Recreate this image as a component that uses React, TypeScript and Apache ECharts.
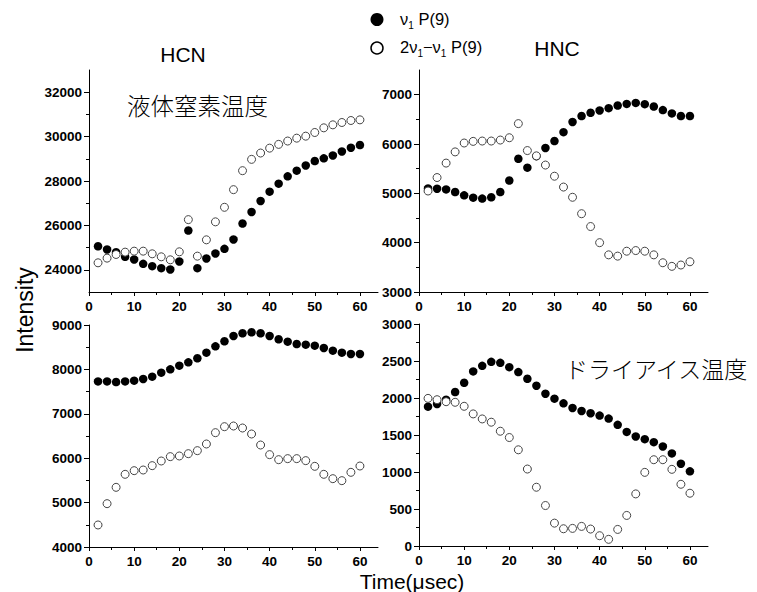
import React, { useEffect, useRef } from "react";
import * as echarts from "echarts";

// Time axis (µsec)
const TIME = [2, 4, 6, 8, 10, 12, 14, 16, 18, 20, 22, 24, 26, 28, 30, 32, 34, 36, 38, 40, 42, 44, 46, 48, 50, 52, 54, 56, 58, 60];

// HCN, liquid-nitrogen temperature
const HCN_LN2_V1 = [25060, 24915, 24795, 24585, 24465, 24270, 24165, 24075, 24015, 24375, 25770, 24075, 24510, 24735, 24945, 25365, 26085, 26605, 27100, 27520, 27880, 28210, 28465, 28700, 28900, 29020, 29150, 29330, 29500, 29620];
const HCN_LN2_COMB = [24315, 24525, 24690, 24795, 24840, 24840, 24720, 24585, 24450, 24810, 26260, 24615, 25350, 26160, 26815, 27610, 28465, 28975, 29260, 29480, 29650, 29800, 29930, 30020, 30185, 30395, 30530, 30635, 30725, 30755];

// HNC, liquid-nitrogen temperature
const HNC_LN2_V1 = [5100, 5093, 5080, 5027, 4960, 4913, 4893, 4920, 5027, 5260, 5700, 5520, 5753, 5920, 6060, 6240, 6447, 6567, 6633, 6680, 6727, 6780, 6813, 6833, 6807, 6760, 6687, 6620, 6567, 6567];
const HNC_LN2_COMB = [5047, 5320, 5613, 5840, 6020, 6053, 6060, 6060, 6080, 6127, 6413, 5867, 5760, 5573, 5347, 5127, 4920, 4587, 4327, 4000, 3753, 3727, 3827, 3840, 3827, 3753, 3593, 3520, 3547, 3613];

// HCN, dry-ice temperature
const HCN_DRY_V1 = [7730, 7730, 7716, 7730, 7746, 7784, 7836, 7927, 8002, 8084, 8159, 8250, 8377, 8520, 8633, 8753, 8813, 8836, 8813, 8753, 8678, 8625, 8572, 8557, 8535, 8482, 8422, 8377, 8347, 8347];
const HCN_DRY_COMB = [4496, 4976, 5344, 5637, 5719, 5734, 5832, 5937, 6035, 6050, 6102, 6170, 6320, 6575, 6710, 6725, 6680, 6545, 6297, 6080, 5967, 5990, 5990, 5945, 5817, 5637, 5539, 5494, 5682, 5824];

// HNC, dry-ice temperature
const HNC_DRY_V1 = [1883, 1919, 1977, 2081, 2206, 2359, 2435, 2489, 2475, 2417, 2350, 2260, 2166, 2058, 1991, 1928, 1865, 1825, 1794, 1762, 1722, 1637, 1542, 1480, 1444, 1403, 1345, 1251, 1112, 1009];
const HNC_DRY_COMB = [1995, 1977, 1950, 1942, 1888, 1785, 1717, 1673, 1551, 1466, 1300, 1040, 794, 547, 309, 233, 238, 265, 229, 139, 90, 224, 413, 704, 995, 1166, 1166, 1036, 834, 713];

// Tick labels
const X_TICKS = [0, 10, 20, 30, 40, 50, 60];
const X_MINOR = [5, 15, 25, 35, 45, 55];
const Y1_TICKS = [24000, 26000, 28000, 30000, 32000];
const Y1_MINOR = [25000, 27000, 29000, 31000];
const Y2_TICKS = [3000, 4000, 5000, 6000, 7000];
const Y2_MINOR = [3500, 4500, 5500, 6500];
const Y3_TICKS = [4000, 5000, 6000, 7000, 8000, 9000];
const Y3_MINOR = [4500, 5500, 6500, 7500, 8500];
const Y4_TICKS = [0, 500, 1000, 1500, 2000, 2500, 3000];
const Y4_MINOR = [250, 750, 1250, 1750, 2250, 2750];

const LEGEND_V1 = "{n|ν}{s|1}{n| P(9)}";
const LEGEND_COMB = "{n|2ν}{s|1}{n|−ν}{s|1}{n| P(9)}";

export default function App() {
  const ref = useRef<HTMLDivElement>(null);

  useEffect(() => {
    if (!ref.current) return;
    const chart = echarts.init(ref.current, null, { renderer: "svg" });

    const panels = [
      { grid: { left: 89, top: 70, width: 289, height: 222 }, yMin: 23000, yMax: 33000, ticks: Y1_TICKS, minor: Y1_MINOR, v1: HCN_LN2_V1, comb: HCN_LN2_COMB },
      { grid: { left: 419, top: 70, width: 289, height: 222 }, yMin: 3000, yMax: 7500, ticks: Y2_TICKS, minor: Y2_MINOR, v1: HNC_LN2_V1, comb: HNC_LN2_COMB },
      { grid: { left: 89, top: 325, width: 289, height: 222 }, yMin: 4000, yMax: 9000, ticks: Y3_TICKS, minor: Y3_MINOR, v1: HCN_DRY_V1, comb: HCN_DRY_COMB },
      { grid: { left: 419, top: 324, width: 289, height: 222 }, yMin: 0, yMax: 3000, ticks: Y4_TICKS, minor: Y4_MINOR, v1: HNC_DRY_V1, comb: HNC_DRY_COMB },
    ];

    const labelStyle = {
      color: "#000",
      fontFamily: "Liberation Sans, Arial, sans-serif",
      fontWeight: "bold" as const,
      fontSize: 13.5,
      formatter: (v: number) => String(v),
    };
    const lineStyle = { color: "#000", width: 1 };

    const grids: any[] = [];
    const xAxes: any[] = [];
    const yAxes: any[] = [];
    const series: any[] = [];

    panels.forEach((p, i) => {
      grids.push({ ...p.grid, containLabel: false, outerBoundsMode: "none" });
      xAxes.push({
        type: "value", gridIndex: i, min: 0, max: 64, position: "bottom",
        axisLine: { show: true, lineStyle },
        axisTick: { show: true, inside: false, length: 4, lineStyle, customValues: X_TICKS },
        axisLabel: { ...labelStyle, margin: 7, customValues: X_TICKS },
        splitLine: { show: false },
      });
      xAxes.push({
        type: "value", gridIndex: i, min: 0, max: 64, position: "bottom", offset: 0,
        axisLine: { show: false },
        axisTick: { show: true, inside: false, length: 3, lineStyle, customValues: X_MINOR },
        axisLabel: { show: false },
        splitLine: { show: false },
      });
      yAxes.push({
        type: "value", gridIndex: i, min: p.yMin, max: p.yMax, position: "left",
        axisLine: { show: true, lineStyle },
        axisTick: { show: true, inside: false, length: 5, lineStyle, customValues: p.ticks },
        axisLabel: { ...labelStyle, margin: 7, customValues: p.ticks },
        splitLine: { show: false },
      });
      yAxes.push({
        type: "value", gridIndex: i, min: p.yMin, max: p.yMax, position: "left", offset: 0,
        axisLine: { show: false },
        axisTick: { show: true, inside: false, length: 3, lineStyle, customValues: p.minor },
        axisLabel: { show: false },
        splitLine: { show: false },
      });
      series.push({
        type: "scatter", xAxisIndex: 2 * i, yAxisIndex: 2 * i,
        symbol: "circle", symbolSize: 8.5,
        itemStyle: { color: "#000", opacity: 1 },
        data: TIME.map((t, k) => [t, p.v1[k]]),
        z: 2,
      });
      series.push({
        type: "scatter", xAxisIndex: 2 * i, yAxisIndex: 2 * i,
        symbol: "circle", symbolSize: 8,
        itemStyle: { color: "#fff", borderColor: "#444", borderWidth: 1, opacity: 1 },
        data: TIME.map((t, k) => [t, p.comb[k]]),
        z: 3,
      });
    });

    const sans = "Liberation Sans, Arial, sans-serif";
    const jp = "Noto Sans CJK JP, sans-serif";
    const richLegend = {
      n: { fontSize: 16.5, fontFamily: sans, color: "#000", lineHeight: 22, verticalAlign: "middle" },
      s: { fontSize: 10, fontFamily: sans, color: "#000", lineHeight: 22, verticalAlign: "bottom" },
    };

    const graphic: any[] = [
      { type: "text", x: 183, y: 54, style: { text: "HCN", fontSize: 21, fontFamily: sans, fill: "#000", align: "center", verticalAlign: "middle" } },
      { type: "text", x: 557, y: 48, style: { text: "HNC", fontSize: 21, fontFamily: sans, fill: "#000", align: "center", verticalAlign: "middle" } },
      { type: "text", x: 127, y: 105, style: { text: "液体窒素温度", fontSize: 23.5, fontFamily: jp, fontWeight: 300, fill: "#000", align: "left", verticalAlign: "middle" } },
      { type: "text", x: 565, y: 368, style: { text: "ドライアイス温度", fontSize: 23, fontFamily: jp, fontWeight: 300, fill: "#000", align: "left", verticalAlign: "middle" } },
      { type: "text", x: 25, y: 310, rotation: Math.PI / 2, style: { text: "Intensity", fontSize: 23, fontFamily: sans, fill: "#000", align: "center", verticalAlign: "middle" } },
      { type: "text", x: 412, y: 581, style: { text: "Time(μsec)", fontSize: 21, fontFamily: sans, fill: "#000", align: "center", verticalAlign: "middle" } },
      { type: "circle", shape: { cx: 377, cy: 19.5, r: 6.5 }, style: { fill: "#000" } },
      { type: "circle", shape: { cx: 377, cy: 48, r: 6 }, style: { fill: "#fff", stroke: "#000", lineWidth: 1.5 } },
      { type: "text", x: 400, y: 19, style: { text: LEGEND_V1, rich: richLegend, align: "left", verticalAlign: "middle" } },
      { type: "text", x: 400, y: 47, style: { text: LEGEND_COMB, rich: richLegend, align: "left", verticalAlign: "middle" } },
    ];

    chart.setOption({
      animation: false,
      backgroundColor: "#fff",
      grid: grids,
      xAxis: xAxes,
      yAxis: yAxes,
      series,
      graphic,
    });

    return () => chart.dispose();
  }, []);

  return <div ref={ref} style={{ position: "fixed", left: 0, top: 0, width: 757, height: 592 }} />;
}
